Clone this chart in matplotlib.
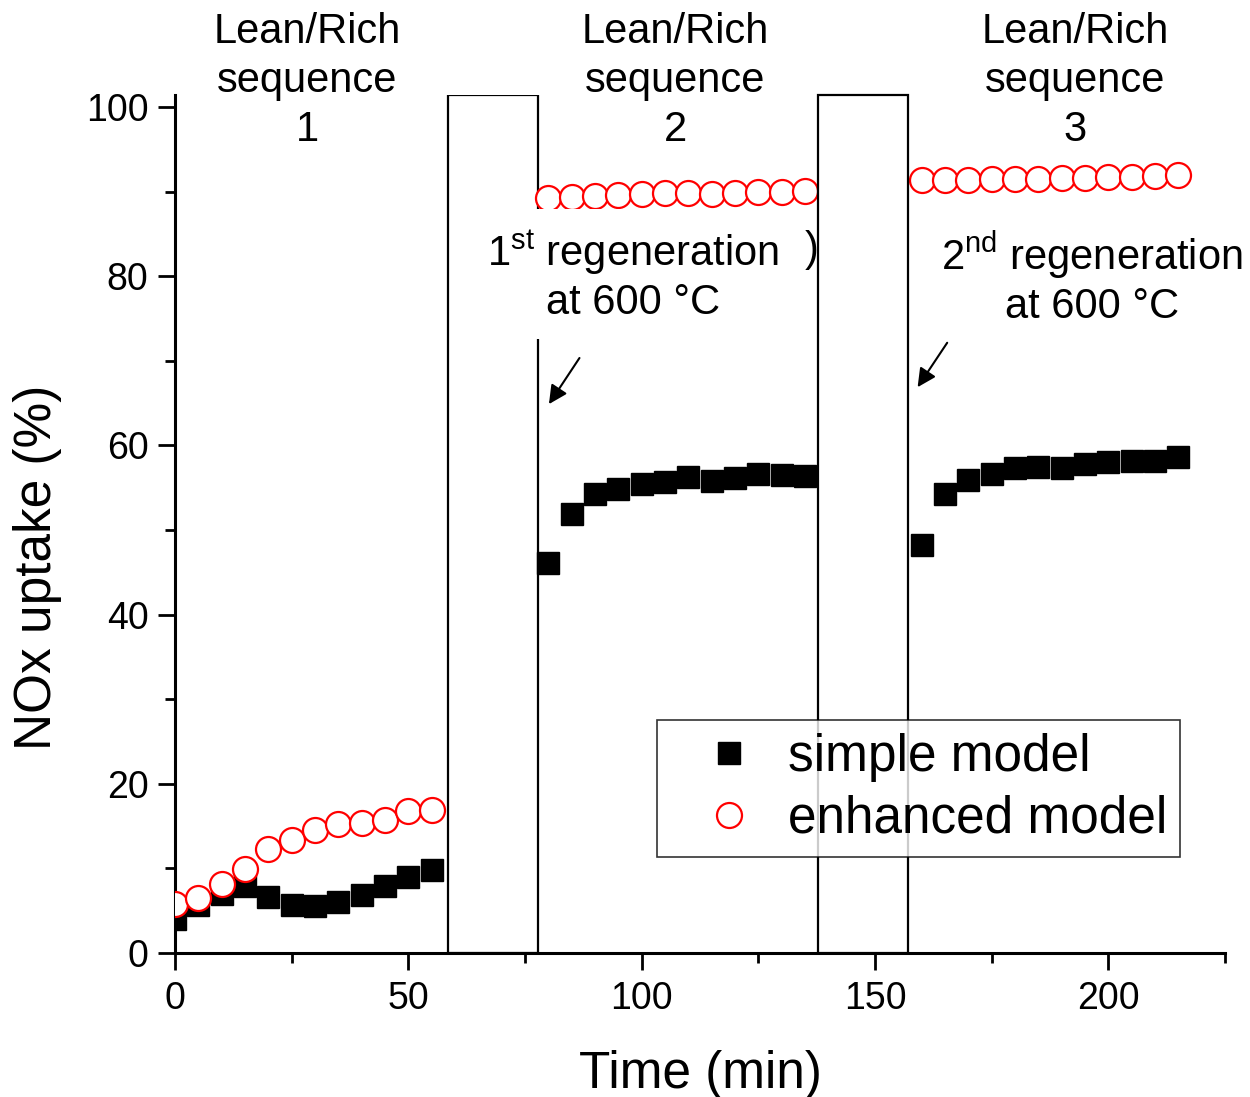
import numpy as np
import matplotlib
matplotlib.use("Agg")
import matplotlib.pyplot as plt
from matplotlib.patches import Rectangle

plt.rcParams["font.family"] = ["Liberation Sans", "DejaVu Sans"]
plt.rcParams["mathtext.fontset"] = "custom"
plt.rcParams["mathtext.rm"] = "Liberation Sans"
plt.rcParams["mathtext.it"] = "Liberation Sans:italic"

# Lean/rich sequence 1
t1 = [0, 5, 10, 15, 20, 25, 30, 35, 40, 45, 50, 55]
simple1 = [4.0, 5.7, 7.0, 7.9, 6.6, 5.7, 5.6, 6.0, 6.9, 7.9, 9.0, 9.8]
enhanced1 = [5.8, 6.5, 8.2, 9.9, 12.3, 13.3, 14.5, 15.2, 15.4, 15.7, 16.8, 16.9]

# Lean/rich sequence 2
t2 = [80, 85, 90, 95, 100, 105, 110, 115, 120, 125, 130, 135]
simple2 = [46.1, 51.9, 54.3, 54.8, 55.4, 55.7, 56.3, 55.8, 56.1, 56.6, 56.5, 56.4]
enhanced2 = [89.2, 89.4, 89.5, 89.6, 89.7, 89.8, 89.8, 89.7, 89.8, 89.9, 90.0, 90.1]

# Lean/rich sequence 3
t3 = [160, 165, 170, 175, 180, 185, 190, 195, 200, 205, 210, 215]
simple3 = [48.2, 54.3, 55.9, 56.6, 57.3, 57.4, 57.3, 57.8, 58.0, 58.1, 58.2, 58.6]
enhanced3 = [91.4, 91.4, 91.4, 91.5, 91.5, 91.5, 91.6, 91.6, 91.7, 91.7, 91.8, 91.9]

# regeneration periods (start, end) in min
regen = [(58.5, 77.8), (137.8, 157.1)]

t_all = t1 + t2 + t3
simple_all = simple1 + simple2 + simple3
enhanced_all = enhanced1 + enhanced2 + enhanced3

fig = plt.figure(figsize=(12.5, 10.97), dpi=100)
ax = fig.add_axes([0.14, 0.1313, 0.84, 0.782])
YTOP = 101.4

ax.plot(t_all, simple_all, ls="none", marker="s", ms=16.5, color="black",
        mec="black", label="simple model", zorder=3)
ax.plot(t_all, enhanced_all, ls="none", marker="o", ms=18, mfc="white",
        mec="red", mew=1.6, label="enhanced model", zorder=4)

# first regeneration box (below the annotation), second above it
r1 = Rectangle((regen[0][0], 0), regen[0][1] - regen[0][0], YTOP,
               facecolor="white", edgecolor="black", lw=1.6, zorder=2)
r2 = Rectangle((regen[1][0], 0), regen[1][1] - regen[1][0], YTOP,
               facecolor="white", edgecolor="black", lw=1.6, zorder=6,
               clip_on=False)
ax.add_patch(r1)
ax.add_patch(r2)

ax.set_xlim(0, 225)
ax.set_ylim(0, YTOP)
ax.set_xticks([0, 50, 100, 150, 200])
ax.set_xticks([25, 75, 125, 175, 225], minor=True)
ax.set_yticks([0, 20, 40, 60, 80, 100])
ax.set_yticks([10, 30, 50, 70, 90], minor=True)
ax.tick_params(which="major", length=12, width=2, labelsize=27, direction="out")
ax.tick_params(which="minor", length=7, width=2, direction="out")
ax.tick_params(axis="x", pad=8)
ax.tick_params(axis="y", pad=7)
for s in ["top", "right"]:
    ax.spines[s].set_visible(False)
for s in ["left", "bottom"]:
    ax.spines[s].set_linewidth(2.2)

ax.set_xlabel("Time (min)", fontsize=37, labelpad=24)
ax.set_ylabel("NOx uptake (%)", fontsize=37)
ax.yaxis.set_label_coords(-0.108, 0.45)

# sequence headers
for xc, n in [(0.2456, 1), (0.54, 2), (0.86, 3)]:
    fig.text(xc, 0.926, f"Lean/Rich\nsequence\n{n}", ha="center", va="center",
             fontsize=30, linespacing=1.28)

fig.text(0.5064, 0.749, "1$^{\\mathrm{st}}$ regeneration\nat 600 °C", ha="center",
         va="center", fontsize=30, linespacing=1.2, zorder=5,
         bbox=dict(facecolor="white", edgecolor="none", pad=12))
fig.text(0.649, 0.772, ")", ha="center", va="center", fontsize=30, zorder=5)
fig.text(0.8736, 0.746, "2$^{\\mathrm{nd}}$ regeneration\nat 600 °C", ha="center",
         va="center", fontsize=30, linespacing=1.2, zorder=7)

# arrows pointing at the end of each regeneration
ax.annotate("", xy=(79.8, 64.6), xytext=(87.0, 70.6),
            arrowprops=dict(arrowstyle="-|>", color="black", lw=1.5,
                            mutation_scale=28), zorder=7)
ax.annotate("", xy=(158.8, 66.6), xytext=(165.8, 72.4),
            arrowprops=dict(arrowstyle="-|>", color="black", lw=1.5,
                            mutation_scale=28), zorder=7)

leg = ax.legend(loc="upper left", bbox_to_anchor=(657 / 1250, 1 - 720 / 1097),
                bbox_transform=fig.transFigure, fontsize=37, frameon=True,
                fancybox=False, edgecolor="black", borderpad=0.25,
                handletextpad=0.0, labelspacing=0.25, handlelength=2.3,
                borderaxespad=0)
leg.get_frame().set_linewidth(1.2)
leg.set_zorder(8)

fig.savefig("out.png", dpi=100)
